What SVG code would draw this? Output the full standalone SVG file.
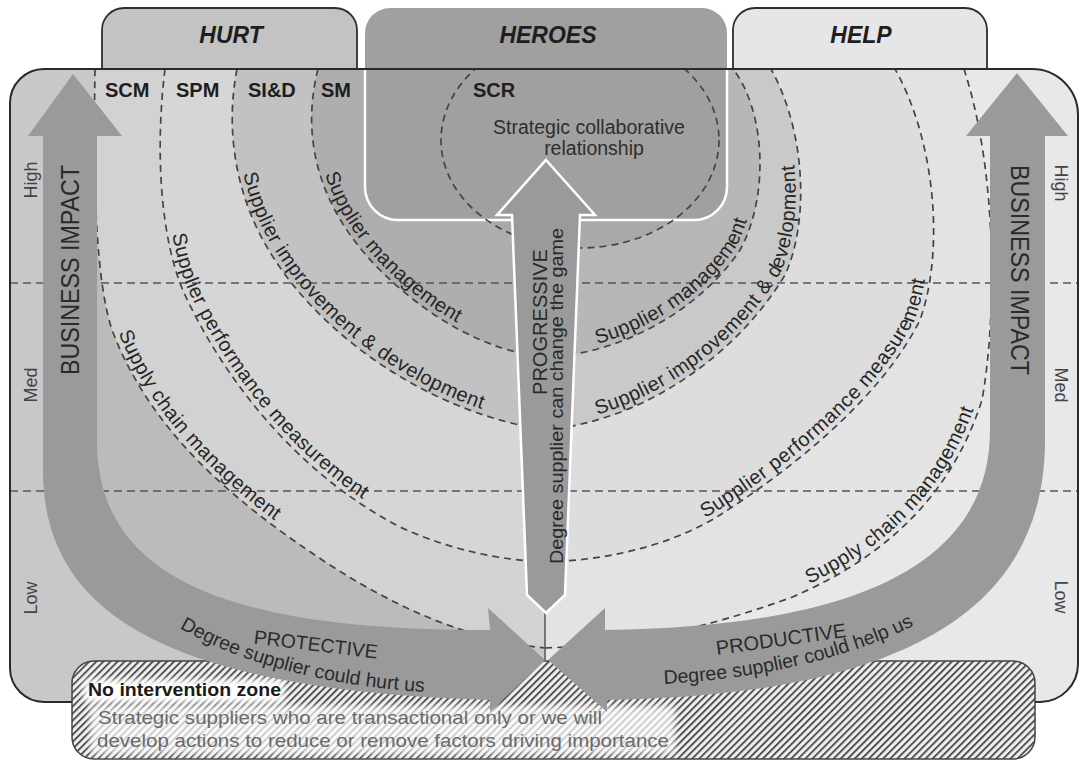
<svg xmlns="http://www.w3.org/2000/svg" width="1080" height="766" viewBox="0 0 1080 766">
  <defs>
    <style>
      text { font-family: "Liberation Sans", Arial, sans-serif; }
      .ring { fill: none; stroke: #444; stroke-width: 1.7; stroke-dasharray: 7 5; }
      .grid { fill: none; stroke: #555; stroke-width: 1.5; stroke-dasharray: 8 5; }
      .tab { stroke: #2e2e2e; stroke-width: 1.8; }
      .tabtxt { font-size: 23px; font-weight: bold; font-style: italic; fill: #1e1e1e; text-anchor: middle; }
      .code { font-size: 20px; font-weight: bold; fill: #1e1e1e; }
      .band { font-size: 20px; fill: #262626; letter-spacing: 0.6px; }
      .axis { font-size: 18px; fill: #444; text-anchor: middle; }
      .arrow { fill: #9a9a9a; }
      .atxt { fill: #2a2a2a; text-anchor: middle; }
      .zone { font-size: 19px; fill: #6a6a6a; }
    </style>
    <clipPath id="panelClip">
      <path d="M44,69 H1032 A46,46 0 0 1 1078,115 V664 A38,38 0 0 1 1040,702 H44 A34,34 0 0 1 10,668 V103 A34,34 0 0 1 44,69 Z"/>
    </clipPath>
    <clipPath id="leftClip"><rect x="0" y="0" width="545" height="766"/></clipPath>
    <clipPath id="rightClip"><rect x="545" y="0" width="535" height="766"/></clipPath>
    <pattern id="hatch" width="5" height="5" patternUnits="userSpaceOnUse" patternTransform="rotate(45)">
      <rect width="5" height="5" fill="#eeeeee"/>
      <rect width="1.7" height="5" fill="#3e3e3e"/>
    </pattern>
    <filter id="soft" x="-10%" y="-30%" width="120%" height="160%">
      <feGaussianBlur stdDeviation="3"/>
    </filter>
  </defs>

  <!-- shaded background of the matrix -->
  <g id="panel" clip-path="url(#panelClip)">
    <g clip-path="url(#leftClip)">
      <rect x="0" y="60" width="545" height="660" fill="#c8c8c8"/>
      <path d="M97,69 L97,440 C97,580 230,630 490,630 L545,630 L545,69 Z" fill="#bbbbbb"/>
      <path d="M95,69 C93,190 96,280 112,330 C150,430 230,500 330,565 C400,610 470,640 545,648 C630,645 700,630 790,598 C880,560 950,500 982,400 C995,330 1000,180 964,69 Z" fill="#d2d2d2"/>
      <path d="M165,69 C155,150 160,240 185,295 C220,370 290,470 400,527 C450,550 500,560 545,562 C620,560 680,540 720,515 C790,470 880,400 920,320 C945,250 935,140 895,69 Z" fill="#d6d6d6"/>
      <path d="M237,69 C225,130 235,200 275,260 C320,330 420,410 545,430 C650,420 740,350 785,275 C810,220 805,130 771,69 Z" fill="#c2c2c2"/>
      <path d="M318,69 C300,140 320,210 380,270 C430,320 490,352 545,357 C620,355 700,310 740,250 C770,195 765,110 733,69 Z" fill="#aeaeae"/>
    </g>
    <g clip-path="url(#rightClip)">
      <rect x="545" y="60" width="540" height="660" fill="#e8e8e8"/>
      <path d="M95,69 C93,190 96,280 112,330 C150,430 230,500 330,565 C400,610 470,640 545,648 C630,645 700,630 790,598 C880,560 950,500 982,400 C995,330 1000,180 964,69 Z" fill="#e3e3e3"/>
      <path d="M165,69 C155,150 160,240 185,295 C220,370 290,470 400,527 C450,550 500,560 545,562 C620,560 680,540 720,515 C790,470 880,400 920,320 C945,250 935,140 895,69 Z" fill="#dddddd"/>
      <path d="M237,69 C225,130 235,200 275,260 C320,330 420,410 545,430 C650,420 740,350 785,275 C810,220 805,130 771,69 Z" fill="#c9c9c9"/>
      <path d="M318,69 C300,140 320,210 380,270 C430,320 490,352 545,357 C620,355 700,310 740,250 C770,195 765,110 733,69 Z" fill="#b7b7b7"/>
    </g>
    <ellipse cx="580" cy="140" rx="139" ry="108" fill="#a9a9a9"/>
  </g>

  <!-- High / Med / Low divisions -->
  <g id="grid">
    <line class="grid" x1="10" y1="283" x2="1078" y2="283"/>
    <line class="grid" x1="10" y1="491" x2="1078" y2="491"/>
  </g>

  <!-- concentric relationship rings -->
  <g id="rings" clip-path="url(#panelClip)">
    <path id="e1l" class="ring" d="M95,69 C93,190 96,280 112,330 C150,430 230,500 330,565 C400,610 470,640 545,648"/>
    <path id="e1r" class="ring" d="M545,648 C630,645 700,630 790,598 C880,560 950,500 982,400 C995,330 1000,180 964,69"/>
    <path id="e2l" class="ring" d="M165,69 C155,150 160,240 185,295 C220,370 290,470 400,527 C450,550 500,560 545,562"/>
    <path id="e2r" class="ring" d="M545,562 C620,560 680,540 720,515 C790,470 880,400 920,320 C945,250 935,140 895,69"/>
    <path id="e3l" class="ring" d="M237,69 C225,130 235,200 275,260 C320,330 420,410 545,430"/>
    <path id="e3r" class="ring" d="M545,430 C650,420 740,350 785,275 C810,220 805,130 771,69"/>
    <path id="e4l" class="ring" d="M318,69 C300,140 320,210 380,270 C430,320 490,352 545,357"/>
    <path id="e4r" class="ring" d="M545,357 C620,355 700,310 740,250 C770,195 765,110 733,69"/>
  </g>

  <!-- tabs -->
  <g id="tab-hurt">
    <path class="tab" d="M102,69 V30 A22,22 0 0 1 124,8 H335 A22,22 0 0 1 357,30 V69" fill="#c3c3c3"/>
    <text class="tabtxt" x="231" y="43">HURT</text>
  </g>
  <g id="tab-help">
    <path class="tab" d="M733,69 V30 A22,22 0 0 1 755,8 H965 A22,22 0 0 1 987,30 V69" fill="#e6e6e6"/>
    <text class="tabtxt" x="861" y="43">HELP</text>
  </g>
  <g id="tab-heroes">
    <path d="M365,69 V33 A25,25 0 0 1 390,8 H702 A25,25 0 0 1 727,33 V187 A33,33 0 0 1 694,220 H398 A33,33 0 0 1 365,187 Z" fill="#a0a0a0"/>
    <path d="M365,69 V187 A33,33 0 0 0 398,220 H694 A33,33 0 0 0 727,187 V69" fill="none" stroke="#fff" stroke-width="2.5"/>
    <g clip-path="url(#panelClip)">
      <ellipse class="ring" cx="580" cy="140" rx="139" ry="108"/>
    </g>
    <text class="tabtxt" x="548" y="43">HEROES</text>
    <text class="code" x="473" y="97">SCR</text>
    <text x="589" y="134" font-size="19.5" fill="#2e2e2e" text-anchor="middle">Strategic collaborative</text>
    <text x="594" y="155" font-size="19.5" fill="#2e2e2e" text-anchor="middle">relationship</text>
  </g>

  <!-- panel outline -->
  <path id="panel-outline" d="M44,69 H1032 A46,46 0 0 1 1078,115 V664 A38,38 0 0 1 1040,702 H44 A34,34 0 0 1 10,668 V103 A34,34 0 0 1 44,69 Z" fill="none" stroke="#2a2a2a" stroke-width="2"/>

  <!-- ring codes and axis labels -->
  <g id="codes">
    <text class="code" x="105" y="97">SCM</text>
    <text class="code" x="176" y="97">SPM</text>
    <text class="code" x="248" y="97">SI&amp;D</text>
    <text class="code" x="321" y="97">SM</text>
  </g>
  <g id="axis">
    <text class="axis" transform="translate(37,180) rotate(-90)">High</text>
    <text class="axis" transform="translate(37,385) rotate(-90)">Med</text>
    <text class="axis" transform="translate(37,598) rotate(-90)">Low</text>
    <text class="axis" transform="translate(1055,183) rotate(90)">High</text>
    <text class="axis" transform="translate(1055,385) rotate(90)">Med</text>
    <text class="axis" transform="translate(1055,597) rotate(90)">Low</text>
  </g>

  <!-- ring names along the rings -->
  <g id="ring-labels" class="band">
    <text><textPath href="#e4l" startOffset="212" text-anchor="middle"><tspan dy="-5">Supplier management</tspan></textPath></text>
    <text><textPath href="#e4r" startOffset="158" text-anchor="middle"><tspan dy="-5">Supplier management</tspan></textPath></text>
    <text><textPath href="#e3l" startOffset="284" text-anchor="middle"><tspan dy="-5">Supplier improvement &amp; development</tspan></textPath></text>
    <text><textPath href="#e3r" startOffset="232" text-anchor="middle"><tspan dy="-5">Supplier improvement &amp; development</tspan></textPath></text>
    <text><textPath href="#e2l" startOffset="336" text-anchor="middle"><tspan dy="-5">Supplier performance measurement</tspan></textPath></text>
    <text><textPath href="#e2r" startOffset="338" text-anchor="middle"><tspan dy="-5">Supplier performance measurement</tspan></textPath></text>
    <text><textPath href="#e1l" startOffset="393" text-anchor="middle"><tspan dy="-5">Supply chain management</tspan></textPath></text>
    <text><textPath href="#e1r" startOffset="400" text-anchor="middle"><tspan dy="-5">Supply chain management</tspan></textPath></text>
  </g>

  <!-- no intervention zone -->
  <g id="no-intervention-zone">
    <rect x="72" y="661" width="963" height="98" rx="22" fill="url(#hatch)" stroke="#444" stroke-width="1.5"/>
    <rect x="84" y="680" width="200" height="22" fill="#fff" filter="url(#soft)"/>
    <rect x="90" y="706" width="585" height="48" fill="#fff" opacity="0.72" filter="url(#soft)"/>
    <text x="88" y="696" font-size="19" font-weight="bold" fill="#1a1a1a" textLength="193" lengthAdjust="spacingAndGlyphs">No intervention zone</text>
    <text class="zone" x="98" y="724" textLength="504" lengthAdjust="spacingAndGlyphs">Strategic suppliers who are transactional only or we will</text>
    <text class="zone" x="97" y="747" textLength="572" lengthAdjust="spacingAndGlyphs">develop actions to reduce or remove factors driving importance</text>
  </g>

  <!-- arrows -->
  <g id="connectors">
    <g id="arrow-protective">
      <path class="arrow" d="M73,74 L122,136 L97,136 L97,440 C97,580 230,630 490,630 L488,608 L545,660 L490,712 L490,700 C160,690 43,610 43,470 L43,136 L28,136 Z"/>
      <text class="atxt" font-size="25" transform="translate(79,270) rotate(-90)" textLength="210" lengthAdjust="spacingAndGlyphs">BUSINESS IMPACT</text>
      <text class="atxt" font-size="19.5" transform="translate(315,651) rotate(7)">PROTECTIVE</text>
      <path id="hurtPath" d="M178,627 C243,665 333,688 443,693" fill="none"/>
      <text font-size="19.5" fill="#2a2a2a"><textPath href="#hurtPath" startOffset="2">Degree supplier could hurt us</textPath></text>
    </g>
    <g id="arrow-productive">
      <path class="arrow" d="M1017,73 L1068,136 L1045,136 L1045,440 C1045,610 905,695 607,700 L607,712 L548,660 L605,608 L605,630 C855,627 990,565 990,430 L990,136 L966,136 Z"/>
      <text class="atxt" font-size="25" transform="translate(1011,270) rotate(90)" textLength="210" lengthAdjust="spacingAndGlyphs">BUSINESS IMPACT</text>
      <text class="atxt" font-size="20" transform="translate(782,646) rotate(-8)">PRODUCTIVE</text>
      <path id="helpPath" d="M662,684 C750,680 850,660 925,620" fill="none"/>
      <text font-size="19.5" fill="#2a2a2a"><textPath href="#helpPath" startOffset="2">Degree supplier could help us</textPath></text>
    </g>
    <g id="arrow-progressive">
      <line x1="545" y1="612" x2="545" y2="660" stroke="#555" stroke-width="1.5"/>
      <path d="M546,160 L595,215 L580,215 L565,595 L546,613 L527,595 L512,215 L497,215 Z" fill="#9a9a9a" stroke="#fff" stroke-width="2.5" stroke-linejoin="miter"/>
      <text class="atxt" font-size="20" transform="translate(547,322) rotate(-90)" textLength="146" lengthAdjust="spacingAndGlyphs">PROGRESSIVE</text>
      <text class="atxt" font-size="19" transform="translate(563,396) rotate(-90)" textLength="336" lengthAdjust="spacingAndGlyphs">Degree supplier can change the game</text>
    </g>
  </g>
</svg>
